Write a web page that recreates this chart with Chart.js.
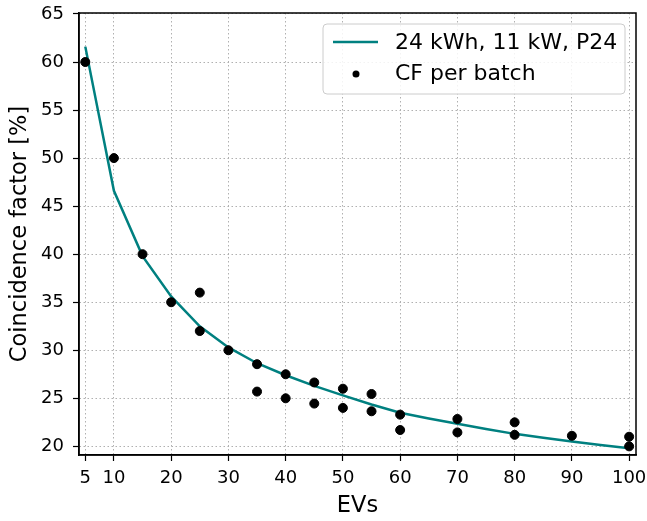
<!DOCTYPE html>
<html>
<head>
<meta charset="utf-8">
<script src="https://cdn.jsdelivr.net/npm/chart.js@4/dist/chart.umd.min.js"></script>
<style>
  body { margin: 0; background: #fff; }
  canvas { display: block; }
</style>
</head>
<body>
<canvas id="cf_chart" width="647" height="521"></canvas>
<script>
// fitted curve
const lineEvs = [5, 10, 15, 20, 25, 30, 35, 40, 45, 50, 55, 60, 65, 70, 75, 80, 85, 90, 95, 100];
const lineCf = [61.6, 46.6, 39.8, 35.6, 32.5, 30.3, 28.65, 27.4, 26.3, 25.3, 24.35, 23.5, 22.9, 22.35, 21.8, 21.3, 20.9, 20.5, 20.15, 19.8];

// measured batches
const batchEvs = [5, 10, 15, 20, 25, 25, 30, 35, 35, 40, 40, 45, 45, 50, 50, 55, 55, 60, 60, 70, 70, 80, 80, 90, 100, 100];
const batchCf = [60, 50, 40, 35, 36, 32, 30, 28.55, 25.7, 27.5, 25.0, 26.65, 24.45, 26.0, 24.0, 25.45, 23.65, 23.3, 21.7, 22.85, 21.45, 22.5, 21.2, 21.1, 21.0, 20.0];

const xTicks = [5, 10, 20, 30, 40, 50, 60, 70, 80, 90, 100];
const yTicks = [20, 25, 30, 35, 40, 45, 50, 55, 60, 65];

const lineLabel = '24 kWh, 11 kW, P24';
const batchLabel = 'CF per batch';

const teal = '#008080';
const fontFamily = '"DejaVu Sans", sans-serif';

// frame on all four sides
const framePlugin = {
    id: 'frame',
    afterDraw(chart) {
        const { ctx, chartArea: a } = chart;
        ctx.save();
        ctx.strokeStyle = '#000';
        ctx.lineWidth = 1.5;
        ctx.strokeRect(a.left, a.top, a.right - a.left, a.bottom - a.top);
        ctx.restore();
    }
};

// matplotlib style legend inside the plot, upper right
const insideLegend = {
    id: 'insideLegend',
    afterDraw(chart) {
        const { ctx, chartArea: a } = chart;
        const w = 302, h = 70;
        const x = a.right - 11 - w, y = a.top + 11;
        ctx.save();
        ctx.beginPath();
        ctx.roundRect(x, y, w, h, 4);
        ctx.fillStyle = 'rgba(255,255,255,0.85)';
        ctx.fill();
        ctx.strokeStyle = '#cccccc';
        ctx.lineWidth = 1;
        ctx.stroke();

        ctx.strokeStyle = teal;
        ctx.lineWidth = 2.5;
        ctx.beginPath();
        ctx.moveTo(x + 10, y + 18);
        ctx.lineTo(x + 55, y + 18);
        ctx.stroke();

        ctx.fillStyle = '#000';
        ctx.beginPath();
        ctx.arc(x + 33, y + 50, 3.5, 0, Math.PI * 2);
        ctx.fill();

        ctx.font = '22px ' + fontFamily;
        ctx.textBaseline = 'middle';
        ctx.fillText(lineLabel, x + 72, y + 19);
        ctx.fillText(batchLabel, x + 72, y + 50);
        ctx.restore();
    }
};

const gridOpts = {
    color: '#b0b0b0',
    lineWidth: 1,
    tickColor: '#000',
    tickBorderDash: [],
    tickLength: 6,
    tickWidth: 1.2
};
const borderOpts = { display: true, color: '#000', width: 1.5, dash: [1.5, 2.5] };

const chartElement = document.getElementById('cf_chart');
new Chart(chartElement, {
    type: 'scatter',
    data: {
        datasets: [
            {
                label: batchLabel,
                data: batchEvs.map((v, i) => ({ x: v, y: batchCf[i] })),
                backgroundColor: '#000',
                borderColor: '#000',
                pointRadius: 4.5,
                pointHoverRadius: 4.5
            },
            {
                label: lineLabel,
                data: lineEvs.map((v, i) => ({ x: v, y: lineCf[i] })),
                showLine: true,
                borderColor: teal,
                borderWidth: 2.5,
                pointRadius: 0,
                fill: false
            }
        ]
    },
    options: {
        responsive: false,
        animation: false,
        devicePixelRatio: 1,
        layout: { padding: { top: 13, right: 11, left: 0, bottom: 0 } },
        plugins: {
            legend: { display: false },
            tooltip: { enabled: false }
        },
        scales: {
            x: {
                type: 'linear',
                min: 3.9,
                max: 101.2,
                afterBuildTicks: scale => { scale.ticks = xTicks.map(v => ({ value: v })); },
                afterFit: scale => { scale.height = 66; scale.paddingLeft = 0; scale.paddingRight = 0; },
                grid: gridOpts,
                border: borderOpts,
                ticks: {
                    color: '#000',
                    font: { family: fontFamily, size: 18 },
                    padding: 7,
                    maxRotation: 0,
                    autoSkip: false
                },
                title: {
                    display: true,
                    text: 'EVs',
                    color: '#000',
                    font: { family: fontFamily, size: 22.5 },
                    padding: { top: 0, bottom: 1.5 }
                }
            },
            y: {
                min: 19.1,
                max: 65.1,
                afterBuildTicks: scale => { scale.ticks = yTicks.map(v => ({ value: v })); },
                afterFit: scale => { scale.width = 79; scale.paddingTop = 0; scale.paddingBottom = 0; },
                grid: gridOpts,
                border: borderOpts,
                ticks: {
                    color: '#000',
                    font: { family: fontFamily, size: 18 },
                    padding: 9,
                    autoSkip: false
                },
                title: {
                    display: true,
                    text: 'Coincidence factor [%]',
                    color: '#000',
                    font: { family: fontFamily, size: 22.5 },
                    padding: { top: 7, bottom: 0 }
                }
            }
        }
    },
    plugins: [framePlugin, insideLegend]
});
</script>
</body>
</html>
